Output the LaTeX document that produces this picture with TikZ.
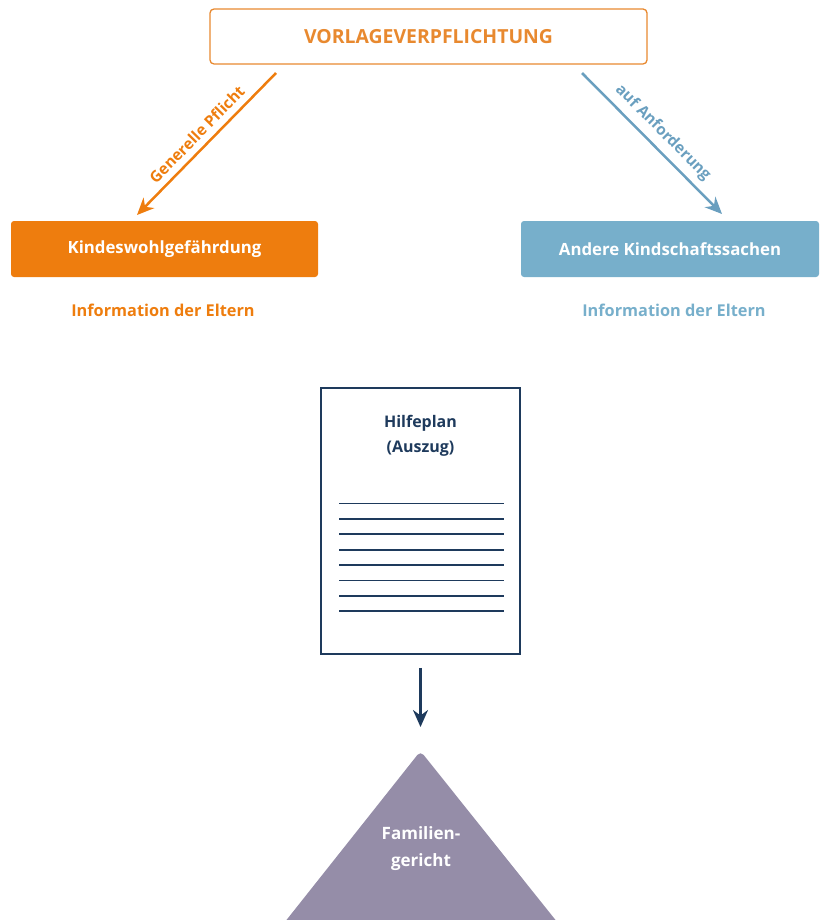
\documentclass[tikz,border=0pt]{standalone}
\usepackage{fontspec}
\setmainfont{Open Sans}
\usetikzlibrary{arrows.meta}
\definecolor{vorange}{HTML}{E8892F}
\definecolor{korange}{HTML}{EE7D0E}
\definecolor{kblue}{HTML}{77AFCB}
\definecolor{ablue}{HTML}{6A9FBF}
\definecolor{navy}{HTML}{1E3A5C}
\definecolor{lila}{HTML}{958DA8}
\begin{document}
\begin{tikzpicture}[x=1pt,y=-1pt,
    box/.style={rounded corners=3pt,minimum height=56pt,text=white,font=\bfseries\fontsize{16.8}{20}\selectfont},
    info/.style={font=\bfseries\fontsize{16.3}{20}\selectfont},
    pfeil/.style={line width=2.5pt,-{Stealth[length=17pt,width=15pt]}},
    lbl/.style={midway,sloped,above,font=\bfseries\fontsize{15.5}{18}\selectfont}]
                \useasboundingbox (0,0) rectangle (819,920);
                % oben
                \node[draw=vorange,line width=1.3pt,rounded corners=4pt,minimum width=437pt,minimum height=55pt,text=vorange,font=\bfseries\fontsize{19.4}{22}\selectfont] (vp) at (428.5,36.5) {VORLAGEVERPFLICHTUNG};
                \node[box,fill=korange,minimum width=307pt] (kw) at (164.5,249) {Kindeswohlgefährdung};
                \node[box,fill=kblue,minimum width=298pt] (ak) at (670,249) {Andere Kindschaftssachen};
                \node[info,text=korange] (ie1) at (163,310) {Information der Eltern};
                \node[info,text=kblue] (ie2) at (674,310) {Information der Eltern};
                \coordinate (l1) at (276,73);
                \coordinate (l2) at (137,215);
                \coordinate (r1) at (582,73);
                \coordinate (r2) at (722,214);
                \draw[pfeil,korange] (l1) -- (l2) node[lbl,text=korange,yshift=3pt] {Generelle Pflicht};
                \draw[pfeil,ablue] (r1) -- (r2) node[lbl,text=ablue,yshift=3pt] {auf Anforderung};
                % Hilfeplan
                \node[draw=navy,line width=1.5pt,minimum width=199pt,minimum height=266pt] (hp) at (420.5,521) {};
                \node[align=center,text=navy,font=\bfseries\fontsize{16}{25}\selectfont] (hpt) at (420.5,436) {Hilfeplan\\(Auszug)};
                \foreach \i in {0,...,7}
                    \draw[navy,line width=1.8pt] (339,503.5+\i*15.4) -- (504,503.5+\i*15.4);
                % Familiengericht
                \coordinate (fgtop) at (420.5,751);
                \fill[lila,rounded corners=5pt] (fgtop) -- (559.5,925) -- (282.5,925) -- cycle;
                \node[align=center,text=white,font=\bfseries\fontsize{17}{27}\selectfont] (fg) at (421,849) {Familien-\\gericht};
                \draw[pfeil,navy] ([yshift=-13pt]hp.south) -- ([yshift=24pt]fgtop);
            \end{tikzpicture}
\end{document}
